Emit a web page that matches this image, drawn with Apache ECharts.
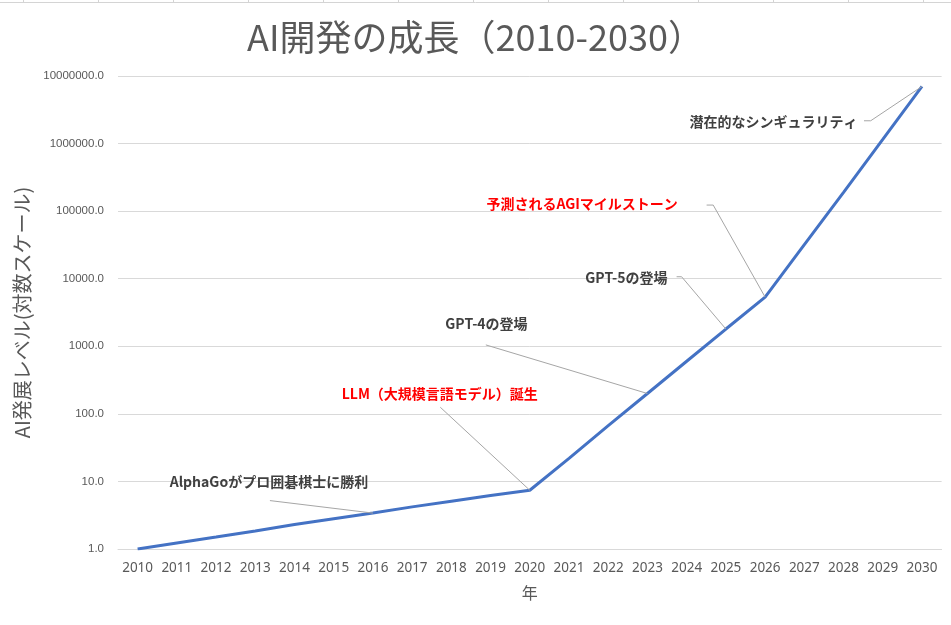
<!DOCTYPE html>
<html lang="ja">
<head>
    <meta charset="UTF-8">
    <title>AI開発の成長</title>
    <script src="https://cdn.jsdelivr.net/npm/echarts@6/dist/echarts.min.js"></script>
    <style>
        html, body { margin: 0; padding: 0; background: #fff; }
    </style>
</head>
<body>
    <div id="main" style="width: 951px; height: 625px;"></div>
</body>
</html>

<script>
    // 年とAI発展レベル
    var years = ['2010', '2011', '2012', '2013', '2014', '2015', '2016', '2017', '2018', '2019',
        '2020', '2021', '2022', '2023', '2024', '2025', '2026', '2027', '2028', '2029', '2030'];
    var levels = [1, 1.23, 1.5, 1.85, 2.3, 2.8, 3.4, 4.2, 5.1, 6.2,
        7.4, 22, 67, 200, 600, 1800, 5350, 32000, 190000, 1150000, 7000000];

    // 注釈
    var annYears = ['2016', '2020', '2023', '2025', '2026', '2030'];
    var annTexts = [
        'AlphaGoがプロ囲碁棋士に勝利',
        'LLM（大規模言語モデル）誕生',
        'GPT-4の登場',
        'GPT-5の登場',
        '予測されるAGIマイルストーン',
        '潜在的なシンギュラリティ'
    ];
    var annColors = ['#404040', '#FF0000', '#404040', '#404040', '#FF0000', '#404040'];

    // 注釈の配置（データ点からのピクセル差分）: ラベル中心、引出線の始点（と短い横線）
    var annLayout = [
        { lx: -104, ly: -31.5, line: [[-103, -12.5]] },
        { lx: -90, ly: -97, line: [[-89.5, -83]] },
        { lx: -161, ly: -69.6, line: [[-161.6, -48.6]] },
        { lx: -99.5, ly: -51.5, line: [[-49.3, -52.3], [-44.3, -52.3]] },
        { lx: -183, ly: -93, line: [[-58.5, -92], [-51.9, -92]] },
        { lx: -148.5, ly: 35.5, line: [[-58, 34.3], [-51.3, 34.3]] }
    ];

    var annData = annYears.map(function (y, i) {
        var k = years.indexOf(y);
        return [k, levels[k], i];
    });

    var myChart = echarts.init(document.getElementById('main'));

    // 背景のセル罫線
    var cellLines = [{
        type: 'line', silent: true,
        shape: { x1: 0, y1: 2.5, x2: 951, y2: 2.5 },
        style: { stroke: '#d4d4d4', lineWidth: 1 }
    }];
    for (var cx = 23.5; cx < 951; cx += 75) {
        cellLines.push({
            type: 'line', silent: true,
            shape: { x1: cx, y1: 0, x2: cx, y2: 2.5 },
            style: { stroke: '#d4d4d4', lineWidth: 1 }
        });
    }

    var option = {
        backgroundColor: '#ffffff',
        animation: false,
        graphic: cellLines,
        title: {
            text: 'AI開発の成長（2010-2030）',
            left: 'center',
            top: 14,
            textStyle: {
                fontFamily: '"Noto Sans CJK JP"',
                fontSize: 36,
                fontWeight: 'normal',
                color: '#595959'
            }
        },
        grid: {
            left: 118,
            right: 9.4,
            top: 76,
            bottom: 76
        },
        xAxis: {
            type: 'category',
            data: years,
            boundaryGap: true,
            name: '年',
            nameLocation: 'middle',
            nameGap: 36,
            nameTextStyle: {
                fontFamily: '"Noto Sans CJK JP"',
                fontSize: 16,
                color: '#595959'
            },
            axisLine: { lineStyle: { color: '#d9d9d9' } },
            axisTick: { show: false },
            axisLabel: {
                color: '#595959',
                fontFamily: '"Noto Sans"',
                fontSize: 13.5,
                margin: 12,
                interval: 0
            }
        },
        yAxis: {
            type: 'log',
            logBase: 10,
            min: 1,
            max: 10000000,
            name: 'AI発展レベル(対数スケール)',
            nameLocation: 'middle',
            nameGap: 78,
            nameTextStyle: {
                fontFamily: '"Noto Sans CJK JP"',
                fontSize: 20,
                color: '#595959'
            },
            axisLine: { show: false },
            axisTick: { show: false },
            splitLine: { lineStyle: { color: '#d9d9d9' } },
            axisLabel: {
                color: '#595959',
                fontFamily: '"Liberation Sans"',
                fontSize: 11.5,
                margin: 14,
                formatter: function (v) { return Number(v).toFixed(1); }
            }
        },
        series: [{
            type: 'line',
            data: levels,
            showSymbol: false,
            lineStyle: { color: '#4472C4', width: 3 },
            itemStyle: { color: '#4472C4' },
            z: 2
        }, {
            type: 'custom',
            data: annData,
            encode: { x: 0, y: 1 },
            clip: false,
            silent: true,
            z: 3,
            renderItem: function (params, api) {
                var i = api.value(2);
                var p = api.coord([api.value(0), api.value(1)]);
                var lay = annLayout[i];
                var pts = lay.line.map(function (d) { return [p[0] + d[0], p[1] + d[1]]; });
                pts.push([p[0], p[1]]);
                return {
                    type: 'group',
                    children: [{
                        type: 'polyline',
                        shape: { points: pts },
                        style: { stroke: '#a6a6a6', lineWidth: 1, fill: null }
                    }, {
                        type: 'text',
                        style: {
                            text: annTexts[i],
                            x: p[0] + lay.lx,
                            y: p[1] + lay.ly,
                            align: 'center',
                            verticalAlign: 'middle',
                            fill: annColors[i],
                            font: 'bold 14px "Noto Sans CJK JP"'
                        }
                    }]
                };
            }
        }]
    };

    myChart.setOption(option);
</script>
